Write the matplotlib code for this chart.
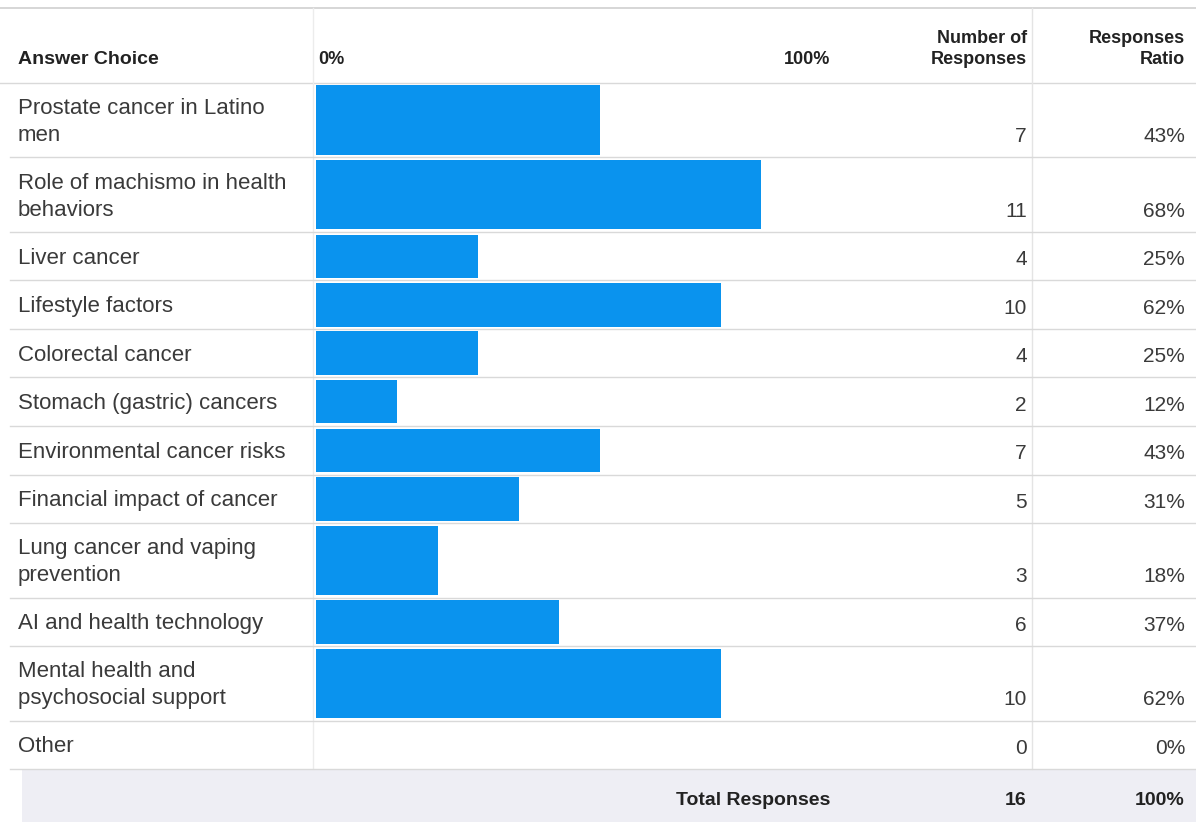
import matplotlib.pyplot as plt

# survey data
choices = [
    "Prostate cancer in Latino\nmen",
    "Role of machismo in health\nbehaviors",
    "Liver cancer",
    "Lifestyle factors",
    "Colorectal cancer",
    "Stomach (gastric) cancers",
    "Environmental cancer risks",
    "Financial impact of cancer",
    "Lung cancer and vaping\nprevention",
    "AI and health technology",
    "Mental health and\npsychosocial support",
    "Other",
]
counts = [7, 11, 4, 10, 4, 2, 7, 5, 3, 6, 10, 0]
ratios = ["43%", "68%", "25%", "62%", "25%", "12%", "43%", "31%", "18%", "37%", "62%", "0%"]
total = 16

W, H = 1196, 822
plt.rcParams['font.family'] = ['Liberation Sans', 'DejaVu Sans']

fig = plt.figure(figsize=(W / 100, H / 100), dpi=100)
bg = fig.add_axes([0, 0, 1, 1])
bg.set_xlim(0, W)
bg.set_ylim(H, 0)
bg.axis('off')

bar_x0, bar_w = 316, 648
bx = fig.add_axes([bar_x0 / W, 0, bar_w / W, 1])
bx.set_xlim(0, 100)
bx.set_ylim(H, 0)
bx.axis('off')

grid = '#d9d9d9'
txt = '#3a3a3a'
head = '#222222'
blue = '#0a93ee'

# row layout
header_top, header_bot = 8, 83
single_h, double_h = 48.5, 74.5
bg.axhline(header_top, color='#cfcfcf', lw=1.2)
bg.axhline(header_bot, color=grid, lw=1)

tops = []
y = header_bot
for lab in choices:
    h = double_h if '\n' in lab else single_h
    tops.append((y, h))
    y += h
table_bot = y

# header
bg.text(18, 60, "Answer Choice", fontsize=14, fontweight='bold', color=head,
        va='center', ha='left')
bg.text(318, 60, "0%", fontsize=13, fontweight='bold', color=head, va='center', ha='left')
bg.text(830, 60, "100%", fontsize=13, fontweight='bold', color=head, va='center', ha='right')
bg.text(1027, 49, "Number of\nResponses", fontsize=13, fontweight='bold', color=head,
        va='center', ha='right', linespacing=1.35, multialignment='right')
bg.text(1185, 49, "Responses\nRatio", fontsize=13, fontweight='bold', color=head,
        va='center', ha='right', linespacing=1.35, multialignment='right')

# vertical separators
bg.plot([313, 313], [header_top, table_bot], color='#ececec', lw=1)
bg.plot([1032, 1032], [header_top, table_bot], color='#e4e4e4', lw=1)

for (top, h), lab, c, r in zip(tops, choices, counts, ratios):
    bot = top + h
    bg.axhline(bot, color=grid, lw=1, xmin=10 / W)
    bx.barh(top + h / 2, c / total * 100, height=h - 5, left=0, color=blue)
    bg.text(18, top + h / 2 + 2, lab, fontsize=16, color=txt, va='center', ha='left',
            linespacing=1.35)
    bg.text(1027, bot - 21, str(c), fontsize=15, color=txt, va='center', ha='right')
    bg.text(1185, bot - 21, r, fontsize=15, color=txt, va='center', ha='right')

# total row
bg.fill_between([22, W], table_bot, H, color='#eeeef4', lw=0)
bg.text(830, 800, "Total Responses", fontsize=14, fontweight='bold', color=head,
        va='center', ha='right')
bg.text(1027, 800, str(total), fontsize=14, fontweight='bold', color=head,
        va='center', ha='right')
bg.text(1185, 800, "100%", fontsize=14, fontweight='bold', color=head,
        va='center', ha='right')

fig.savefig('out.png', dpi=100)
